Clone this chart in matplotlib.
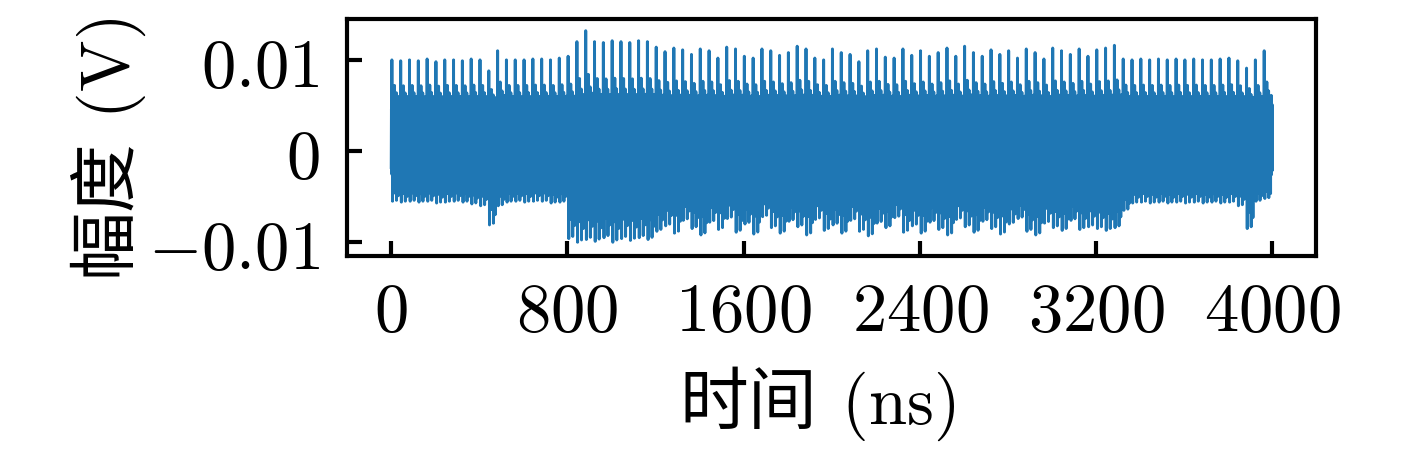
import numpy as np
import matplotlib
matplotlib.use('Agg')
import matplotlib.pyplot as plt
from matplotlib.ticker import FuncFormatter

plt.rcParams['mathtext.fontset'] = 'cm'
plt.rcParams['font.family'] = ['Noto Sans CJK SC', 'DejaVu Sans']

# forma de um período (40 ns, 1 amostra/ns), em mV, lida no trecho inicial
template_mv = [-1.8, 4.6, -2.4, 10.0, -2.6, 5.0, -5.5, 4.8, -2.2, 5.4,
               -2.8, 4.5, -2.3, 6.6, -4.6, 7.2, -2.5, 4.9, -2.1, 5.3,
               -2.7, 4.7, -2.4, 6.4, -5.4, 5.0, -2.2, 4.6, -2.9, 5.6,
               -2.3, 4.8, -4.9, 5.2, -2.5, 6.0, -2.6, 4.9, -2.2, 5.1]

# pico máximo de cada período (mV)
tops_mv = [10.0, 9.9, 10.0, 9.9, 10.1, 9.8, 10.0, 10.0, 9.9, 10.1,
           10.0, 8.8, 11.0, 10.0, 10.0, 10.0, 10.1, 10.1, 10.0, 10.2,
           10.4, 12.0, 13.2, 12.0, 11.9, 12.1, 12.0, 11.9, 12.1, 12.0,
           11.4, 10.9, 11.3, 11.1, 10.6, 11.2, 11.0, 10.2, 11.4, 11.2,
           10.4, 10.2, 11.2, 11.0, 10.5, 10.8, 11.5, 11.2, 10.2, 10.0,
           11.2, 10.8, 10.6, 9.8, 11.0, 11.2, 10.3, 10.2, 11.2, 10.5,
           11.0, 10.4, 10.8, 11.3, 10.4, 11.5, 10.8, 10.4, 11.1, 10.6,
           11.0, 10.2, 11.2, 10.8, 10.1, 11.3, 11.0, 10.6, 11.2, 10.4,
           11.1, 11.3, 11.6, 10.1, 10.0, 10.1, 10.0, 10.1, 10.0, 10.1,
           10.0, 10.1, 10.0, 10.0, 10.1, 10.2, 9.9, 9.1, 10.0, 11.0]

# vale mínimo de cada período (mV)
bottoms_mv = [-5.5, -5.6, -5.5, -5.6, -5.5, -5.7, -5.6, -5.5, -5.6, -5.8,
              -6.0, -8.1, -6.0, -5.6, -5.5, -5.6, -5.5, -5.5, -5.7, -5.6,
              -9.6, -10.0, -9.7, -9.9, -9.5, -10.0, -9.6, -9.8, -9.5, -9.7,
              -8.8, -8.2, -9.0, -7.6, -8.5, -9.2, -7.8, -8.6, -7.4, -8.9,
              -8.0, -9.1, -7.2, -8.4, -9.0, -7.7, -8.3, -9.2, -7.5, -8.7,
              -8.1, -9.0, -7.6, -8.8, -9.3, -7.9, -8.4, -7.3, -8.9, -8.2,
              -9.0, -7.8, -8.6, -9.2, -7.5, -8.3, -8.9, -7.7, -8.5, -9.1,
              -8.0, -7.4, -8.8, -9.2, -7.9, -8.4, -8.7, -7.6, -8.6, -8.3,
              -8.5, -8.7, -8.4, -6.5, -5.7, -5.6, -5.7, -5.6, -5.7, -5.6,
              -5.7, -5.6, -5.7, -5.6, -5.7, -5.6, -6.0, -8.5, -5.5, -5.2]

last_mv = -2.0
xticks = [0, 800, 1600, 2400, 3200, 4000]
yticks = [-0.01, 0, 0.01]

# monta o sinal período a período (só as excursões além da faixa central escalam)
tpl = np.array(template_mv)
parts = []
for top, bot in zip(tops_mv, bottoms_mv):
    seg = tpl.copy()
    up = tpl > 5.5
    dn = tpl < -2.5
    seg[up] = 5.5 + (tpl[up] - 5.5) * (top - 5.5) / 4.5
    seg[dn] = -2.5 + (tpl[dn] + 2.5) * (bot + 2.5) / -3.0
    parts.append(seg)
signal = np.concatenate(parts + [np.array([last_mv])]) / 1000.0
t = np.arange(len(signal))

fig = plt.figure(figsize=(1417 / 300, 449 / 300), dpi=300)
ax = fig.add_axes([0.245, 0.430, 0.684, 0.528])
ax.plot(t, signal, color='#1f77b4', lw=0.7)

ax.set_xlim(-200, 4200)
ax.set_ylim(-0.0115, 0.0145)
ax.set_xticks(xticks)
ax.set_yticks(yticks)
ax.xaxis.set_major_formatter(FuncFormatter(lambda v, p: '$%g$' % v))
ax.yaxis.set_major_formatter(FuncFormatter(lambda v, p: '$%g$' % v))
ax.tick_params(direction='in', length=3.5, width=1.0, labelsize=16.5)
ax.tick_params(axis='x', pad=5)
ax.tick_params(axis='y', pad=6.5)
for s in ax.spines.values():
    s.set_linewidth(1.0)

ax.set_xlabel('时间 $\\,(\\mathrm{ns})$', fontsize=16.5)
ax.set_ylabel('幅度 $\\,(\\mathrm{V})$', fontsize=16.5)
ax.xaxis.set_label_coords(0.485, -0.46)
ax.yaxis.set_label_coords(-0.205, 0.45)

fig.savefig('out.png', dpi=300)
